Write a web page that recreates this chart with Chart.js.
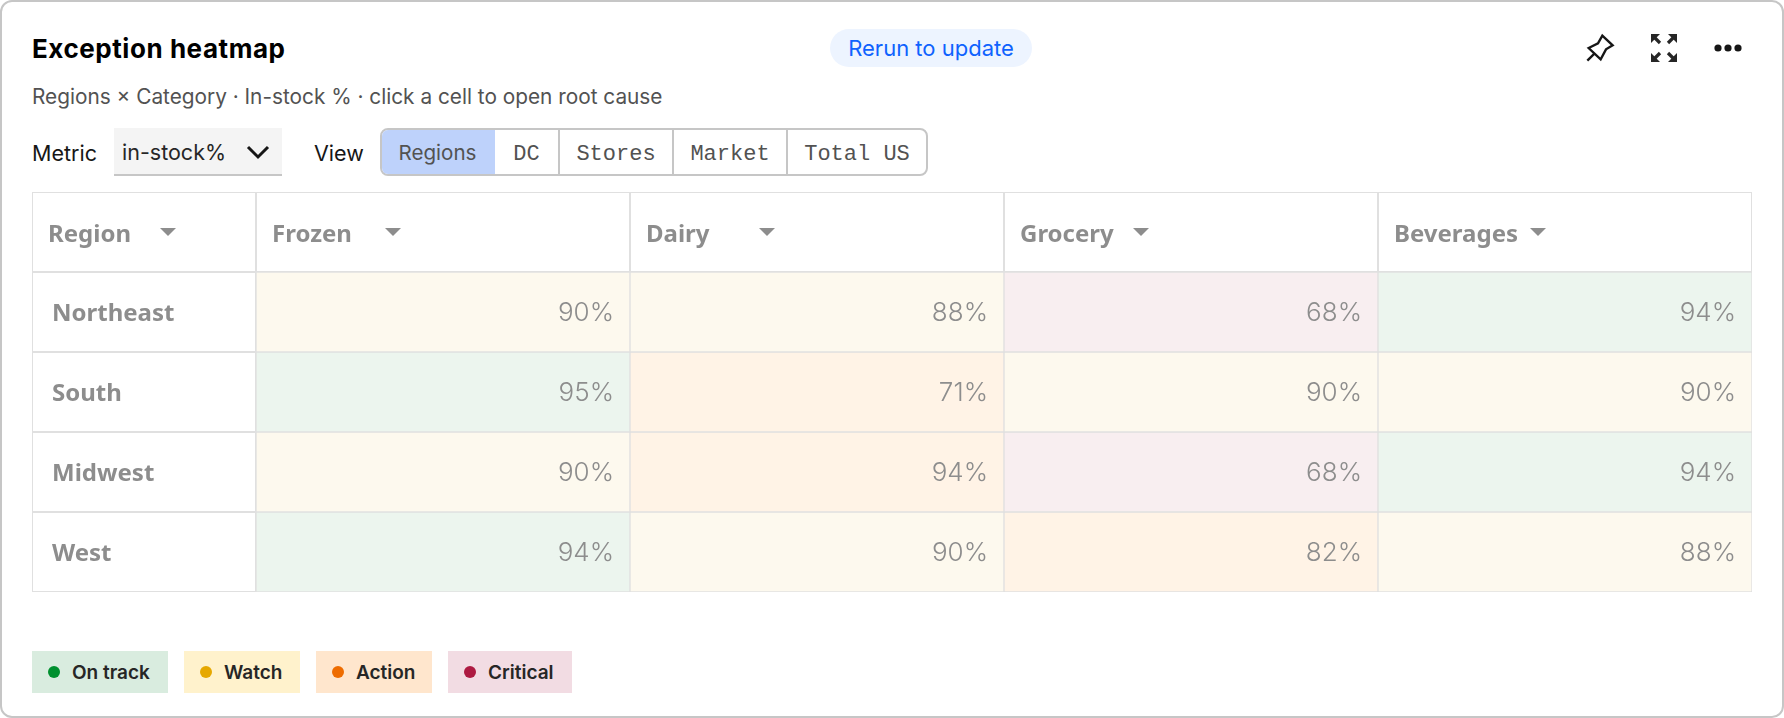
<!DOCTYPE html>
<html><head><meta charset="utf-8">
<script src="https://cdn.jsdelivr.net/npm/chart.js@4"></script>
<style>
html,body{margin:0;padding:0;background:#fff;width:1784px;height:718px;overflow:hidden;font-family:Inter,sans-serif}
.abs{position:absolute;white-space:nowrap}
#card{position:absolute;left:0;top:0;width:1780px;height:714px;border:2px solid #c6c6c6;border-radius:12px;background:#fff}
#title{left:32px;top:31px;font:700 26px/36px Inter;color:#000;letter-spacing:.55px}
#pill{left:830px;top:29px;width:202px;height:38px;border-radius:19px;background:#edf4ff;color:#0f62fe;font:400 22px/38px Inter;text-align:center}
#sub{left:32px;top:83px;font:400 20.8px/28px Inter;color:#525252}
.lbl{font:400 21.5px/28px Inter;color:#161616;top:139px}
#sel{left:114px;top:128px;width:168px;height:46px;background:#f4f4f4;border-bottom:2px solid #c6c6c6;font:400 21.5px/48px Inter;color:#262626;text-indent:8px}
#seg{left:380px;top:128px;width:544px;height:44px;border:2px solid #c6c6c6;border-radius:8px;overflow:hidden;background:#fff}
.s{position:absolute;top:0;height:44px;font:400 22px/49px "Liberation Mono";color:#525252;text-align:center;border-right:2px solid #c6c6c6;box-sizing:content-box}
.chip{top:651px;height:42px;font:600 19px/44px Inter;color:#262626}
.chip i{position:absolute;left:16px;top:15px;width:12px;height:12px;border-radius:50%}
.chip span{position:absolute;left:40px}
#wrap{position:absolute;left:31px;top:191px;width:1722px;height:402px}
</style></head><body>
<div id="card"></div>
<div class="abs" id="title">Exception heatmap</div>
<div class="abs" id="pill">Rerun to update</div>
<svg class="abs" style="left:1570px;top:20px" width="64" height="56" viewBox="0 0 192 168" fill="none" stroke="#161616" stroke-width="7" stroke-linejoin="miter"><path d="M97 47 L128 76 L108 88 L92 118 L56 84 L84 70 Z"/><path d="M74 100 L52 122"/></svg>
<svg class="abs" style="left:1648px;top:32px" width="32" height="32" viewBox="0 0 32 32"><defs><g id="cn"><path d="M3 2h9l-9 9z" fill="#262626"/><path d="M5 4L12 11" stroke="#262626" stroke-width="3.2"/></g></defs><use href="#cn"/><use href="#cn" transform="translate(32 0) scale(-1 1)"/><use href="#cn" transform="translate(0 32) scale(1 -1)"/><use href="#cn" transform="translate(32 32) scale(-1 -1)"/></svg>
<svg class="abs" style="left:1712px;top:32px" width="32" height="32" viewBox="0 0 32 32" fill="#161616"><circle cx="6" cy="16" r="3.6"/><circle cx="16" cy="16" r="3.6"/><circle cx="26" cy="16" r="3.6"/></svg>
<div class="abs" id="sub">Regions × Category · In-stock % · click a cell to open root cause</div>
<div class="abs lbl" style="left:32px">Metric</div>
<div class="abs" id="sel">in-stock%</div>
<svg class="abs" style="left:244px;top:142px" width="28" height="20" viewBox="0 0 28 20" fill="none" stroke="#161616" stroke-width="3"><path d="M4 5 L14 15 L24 5"/></svg>
<div class="abs lbl" style="left:314px">View</div>
<div class="abs" id="seg"></div>
<div id="wrap"><canvas id="c"></canvas></div>
<div id="legend"></div>
<script>
const regions = ["Northeast","South","Midwest","West"];
const categories = ["Frozen","Dairy","Grocery","Beverages"];
const cornerLabel = "Region";
const northeast = [90,88,68,94];
const south = [95,71,90,90];
const midwest = [90,94,68,94];
const west = [94,90,82,88];
const northeastStatus = ["Watch","Watch","Critical","On track"];
const southStatus = ["On track","Action","Watch","Watch"];
const midwestStatus = ["Watch","Action","Critical","On track"];
const westStatus = ["On track","Watch","Action","Watch"];
const statusNames = ["On track","Watch","Action","Critical"];
const cellColors = {"On track":"#ecf5ee","Watch":"#fdf9ee","Action":"#fff3e6","Critical":"#f8eef0"};
const chipColors = {"On track":"#d9ecdf","Watch":"#fff2cc","Action":"#ffe6cd","Critical":"#f2dce3"};
const dotColors = {"On track":"#00902f","Watch":"#e6a800","Action":"#ee6c00","Critical":"#ad1a41"};
const viewOptions = ["Regions","DC","Stores","Market","Total US"];

// page controls
const seg=document.getElementById('seg');
const edges=[0,113,178,292,406,544];
viewOptions.forEach((v,i)=>{const d=document.createElement('div');d.className='s';d.textContent=v;
 d.style.left=edges[i]+'px';d.style.width=(edges[i+1]-edges[i]-(i<4?2:0))+'px';
 if(i===0){d.style.background='#bed2fb';d.style.font='400 20.6px/46px Inter';d.style.borderRightColor='#bed2fb';}
 if(i===4)d.style.borderRight='none';seg.appendChild(d);});
const lg=document.getElementById('legend');const chipX=[32,184,316,448],chipW=[136,116,116,124];
statusNames.forEach((n,i)=>{const d=document.createElement('div');d.className='abs chip';
 d.style.left=chipX[i]+'px';d.style.width=chipW[i]+'px';d.style.background=chipColors[n];
 d.innerHTML='<i style="background:'+dotColors[n]+'"></i><span>'+n+'</span>';lg.appendChild(d);});

const rows=[northeast,south,midwest,west];
const rowStatus=[northeastStatus,southStatus,midwestStatus,westStatus];
const LINE='#e0e0e0';
const HEAD_FONT='700 24px "Noto Sans"';
const tablePlugin={id:'table',
 beforeDraw(ch){
  const {ctx,chartArea:a}=ch;const left=1,top=1;
  ctx.save();ctx.strokeStyle=LINE;ctx.lineWidth=1;
  const xs=[left,a.left,...categories.map((_,i)=>a.left+(a.right-a.left)*(i+1)/4)];
  for(let i=0;i<xs.length-1;i++)ctx.strokeRect(xs[i]+.5,top+.5,xs[i+1]-xs[i]-1,a.top-top-1);
  regions.forEach((_,r)=>{const y0=a.top+(a.bottom-a.top)*r/4,y1=a.top+(a.bottom-a.top)*(r+1)/4;
   ctx.strokeRect(left+.5,y0+.5,a.left-left-1,y1-y0-1);});
  ctx.restore();
 },
 afterDraw(ch){
  const {ctx,chartArea:a}=ch;
  ctx.save();
  ctx.font='300 26px Inter';ctx.fillStyle='#8d8d8d';ctx.textAlign='right';ctx.textBaseline='middle';
  const xScale=ch.scales.x,yScale=ch.scales.y;
  rows.forEach((vals,r)=>vals.forEach((v,c)=>{
    const right=xScale.getPixelForTick(c)+(a.right-a.left)/8;
    ctx.fillText(v+'%',right-16,yScale.getPixelForValue(r+.5)+1);
  }));
  ctx.font=HEAD_FONT;ctx.textAlign='left';
  ctx.fillText(cornerLabel,17,a.top/2+4);
  ctx.fillStyle='#8d8d8d';
  const tri=[129,...categories.map((_,i)=>a.left+(a.right-a.left)*i/4+129)];tri[4]+=23;
  tri.forEach(x=>{ctx.beginPath();ctx.moveTo(x,37);ctx.lineTo(x+16,37);ctx.lineTo(x+8,45);ctx.closePath();ctx.fill();});
  ctx.restore();
 }};

new Chart(document.getElementById('c'),{
 type:'bar',
 plugins:[tablePlugin],
 data:{labels:categories,
  datasets:rows.map((vals,r)=>({
   label:regions[r],
   data:vals.map(()=>[r,r+1]),
   backgroundColor:rowStatus[r].map(s=>cellColors[s]),
   borderColor:LINE,borderWidth:1,borderSkipped:false,
   barPercentage:1,categoryPercentage:1,grouped:false,yAxisID:'y'}))},
 options:{responsive:true,maintainAspectRatio:false,animation:false,
  layout:{padding:{left:21,right:1,top:1,bottom:1}},
  plugins:{legend:{display:false},tooltip:{enabled:false}},
  scales:{
   x:{type:'category',position:'top',offset:true,
      grid:{display:false,drawTicks:false},border:{display:false},
      afterFit(s){s.height=80;s.paddingLeft=0;s.paddingRight=0;},
      ticks:{autoSkip:false,maxRotation:0,minRotation:0,align:'start',labelOffset:-171,padding:22,
        color:'#8d8d8d',font:{family:'"Noto Sans"',size:24,weight:'700'}}},
   y:{type:'linear',min:0,max:4,reverse:true,display:false},
   names:{type:'category',labels:regions,position:'left',offset:true,
      grid:{display:false,drawTicks:false},border:{display:false},
      afterFit(s){s.width=204;s.paddingTop=0;s.paddingBottom=0;},
      ticks:{autoSkip:false,crossAlign:'far',padding:0,labelOffset:2,color:'#8d8d8d',
        font:{family:'"Noto Sans"',size:24,weight:'700'}}}
  }}
});
</script>
</body></html>
